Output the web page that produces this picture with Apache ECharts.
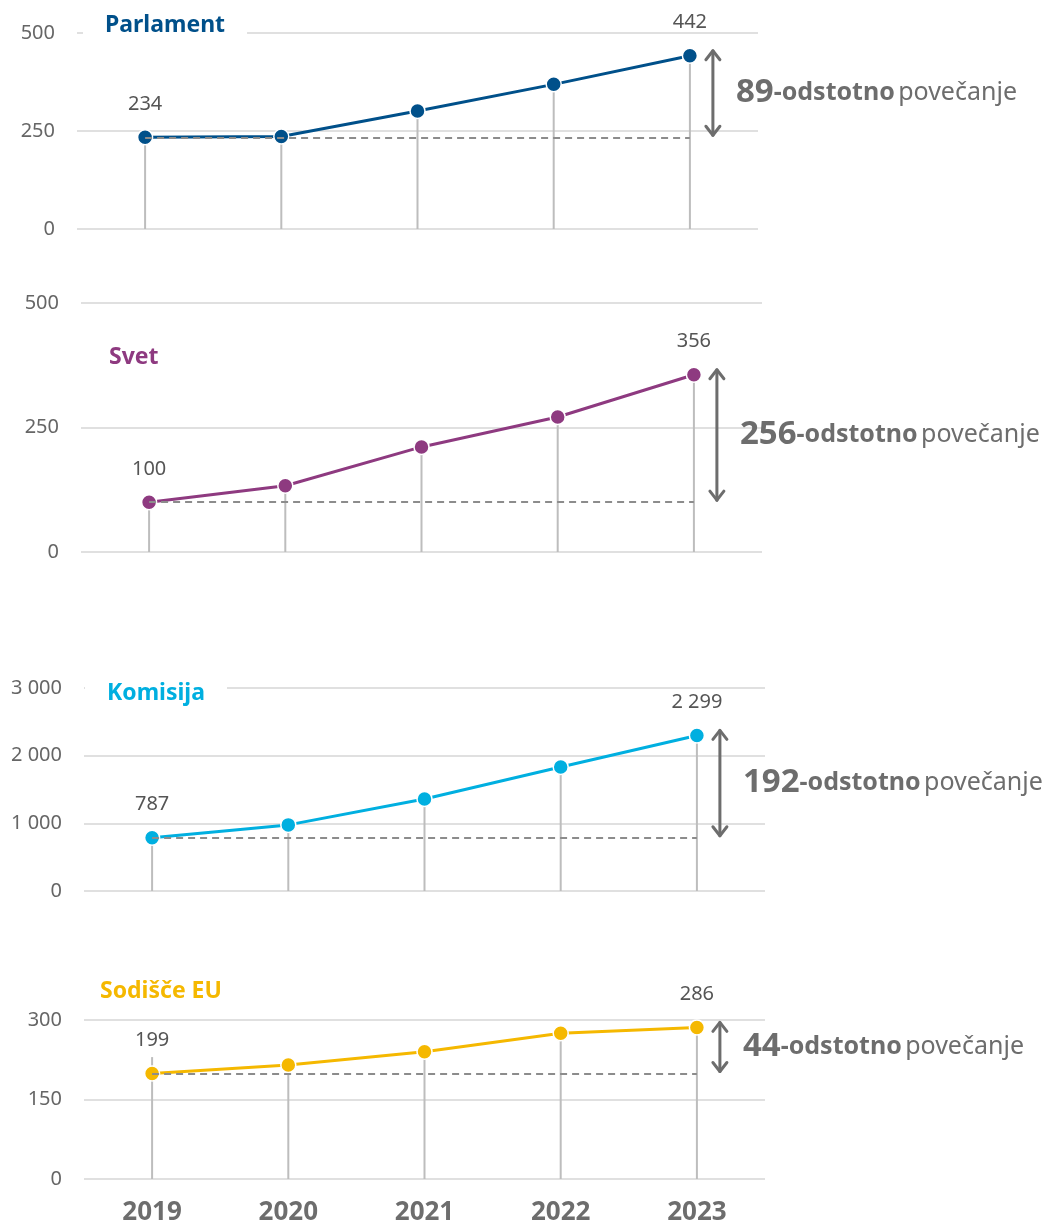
<!DOCTYPE html>
<html style="height: 100%">
<head>
    <meta charset="utf-8">
</head>
<body style="height: 100%; margin: 0; background: #fff">
<div id="container" style="height: 100%"></div>
<script type="text/javascript" src="https://cdn.jsdelivr.net/npm/echarts@6/dist/echarts.min.js"></script>
<script type="text/javascript">
var dom = document.getElementById("container");
var myChart = echarts.init(dom);

// data
var years = ['2019', '2020', '2021', '2022', '2023'];
var panelNames = ['Parlament', 'Svet', 'Komisija', 'Sodišče EU'];
var panelColors = ['#00508a', '#8e3a80', '#00afe0', '#f5b800'];
var parlament = [234, 236, 301, 369, 442];
var svet = [100, 133, 211, 271, 356];
var komisija = [787, 977, 1360, 1832, 2299];
var sodisce = [199, 215, 240, 275, 286];
// grey stems under the points (court panel stems run past two points)
var sodisceStems = [230, 215, 240, 275, 330];
var yMax = [500, 500, 3000, 300];
var yStep = [250, 250, 1000, 150];

var values = [parlament, svet, komisija, sodisce];
var stems = [parlament, svet, komisija, sodisceStems];

// layout for each panel
var grids = [
    {left: 77, top: 33, height: 196, width: 681},
    {left: 81, top: 303, height: 249, width: 681},
    {left: 84, top: 688, height: 203, width: 681},
    {left: 84, top: 1020, height: 159, width: 681}
];
var titlePos = [
    {left: 83, top: 8},
    {left: 87, top: 340},
    {left: 85, top: 676},
    {left: 78, top: 974}
];

var FONT = '"Noto Sans", sans-serif';

function fmt(v) {
    return String(v).replace(/\B(?=(\d{3})+(?!\d))/g, ' ');
}

function renderArrow(params, api) {
    var top = api.coord([api.value(0), api.value(1)]);
    var bot = api.coord([api.value(0), api.value(2)]);
    var x = top[0] + 23;
    var y1 = top[1] - 6;
    var y2 = bot[1] - 1;
    var st = {stroke: '#6d6d6d', lineWidth: 3, fill: null, lineCap: 'round', lineJoin: 'round'};
    var pct = Math.round((api.value(1) - api.value(2)) / api.value(2) * 100);
    return {
        type: 'group',
        children: [
            {type: 'line', shape: {x1: x, y1: y1 + 1, x2: x, y2: y2 - 1}, style: st},
            {type: 'polyline', shape: {points: [[x - 7, y1 + 10], [x, y1 + 1], [x + 7, y1 + 10]]}, style: st},
            {type: 'polyline', shape: {points: [[x - 7, y2 - 10], [x, y2 - 1], [x + 7, y2 - 10]]}, style: st},
            {
                type: 'text',
                x: x + 23,
                y: (y1 + y2) / 2,
                style: {
                    text: '{n|' + pct + '}{b|-odstotno} {r|povečanje}',
                    verticalAlign: 'middle',
                    rich: {
                        n: {fontFamily: FONT, fontSize: 33, fontWeight: 'bold', fill: '#6d6d6d'},
                        b: {fontFamily: FONT, fontSize: 25, fontWeight: 'bold', fill: '#6d6d6d'},
                        r: {fontFamily: FONT, fontSize: 25, fill: '#6d6d6d'}
                    }
                }
            }
        ]
    };
}

var title = [], grid = [], xAxis = [], yAxis = [], series = [];

panelNames.forEach(function (name, i) {
    var vals = values[i];
    var last = vals.length - 1;
    title.push({
        text: name,
        left: titlePos[i].left,
        top: titlePos[i].top,
        padding: [4, 22],
        backgroundColor: '#fff',
        textStyle: {fontFamily: FONT, fontSize: 23, fontWeight: 'bold', color: panelColors[i], lineHeight: 26}
    });
    grid.push(grids[i]);
    xAxis.push({
        type: 'category',
        gridIndex: i,
        data: years,
        axisLine: {show: false},
        axisTick: {show: false},
        axisLabel: {
            show: i === 3,
            margin: 21,
            fontFamily: FONT,
            fontSize: 26,
            fontWeight: 'bold',
            color: '#6d6d6d'
        }
    });
    yAxis.push({
        type: 'value',
        gridIndex: i,
        min: 0,
        max: yMax[i],
        interval: yStep[i],
        axisLine: {show: false},
        axisTick: {show: false},
        splitLine: {lineStyle: {color: '#e0e0e0', width: 2}},
        axisLabel: {
            margin: 22,
            fontFamily: FONT,
            fontSize: 20,
            color: '#666',
            formatter: fmt
        }
    });
    series.push({
        type: 'bar',
        xAxisIndex: i,
        yAxisIndex: i,
        data: stems[i],
        barWidth: 2,
        itemStyle: {color: '#bdbdbd'},
        silent: true,
        z: 1
    });
    series.push({
        type: 'line',
        xAxisIndex: i,
        yAxisIndex: i,
        data: vals,
        symbol: 'circle',
        symbolSize: 15,
        lineStyle: {color: panelColors[i], width: 3},
        itemStyle: {color: panelColors[i], borderColor: '#fff', borderWidth: 1.5},
        z: 3,
        label: {
            show: true,
            position: 'top',
            distance: 15,
            fontFamily: FONT,
            fontSize: 20,
            color: '#555',
            formatter: function (p) {
                return (p.dataIndex === 0 || p.dataIndex === last) ? fmt(p.value) : '';
            }
        },
        markLine: {
            silent: true,
            symbol: ['none', 'none'],
            label: {show: false},
            lineStyle: {type: [7, 5], color: '#8c8c8c', width: 2},
            data: [[{coord: [0, vals[0]]}, {coord: [last, vals[0]]}]]
        }
    });
    series.push({
        type: 'custom',
        xAxisIndex: i,
        yAxisIndex: i,
        renderItem: renderArrow,
        silent: true,
        z: 4,
        data: [[last, vals[last], vals[0]]]
    });
});

var option = {
    animation: false,
    backgroundColor: '#fff',
    title: title,
    grid: grid,
    xAxis: xAxis,
    yAxis: yAxis,
    series: series
};

myChart.setOption(option);
</script>
</body>
</html>
